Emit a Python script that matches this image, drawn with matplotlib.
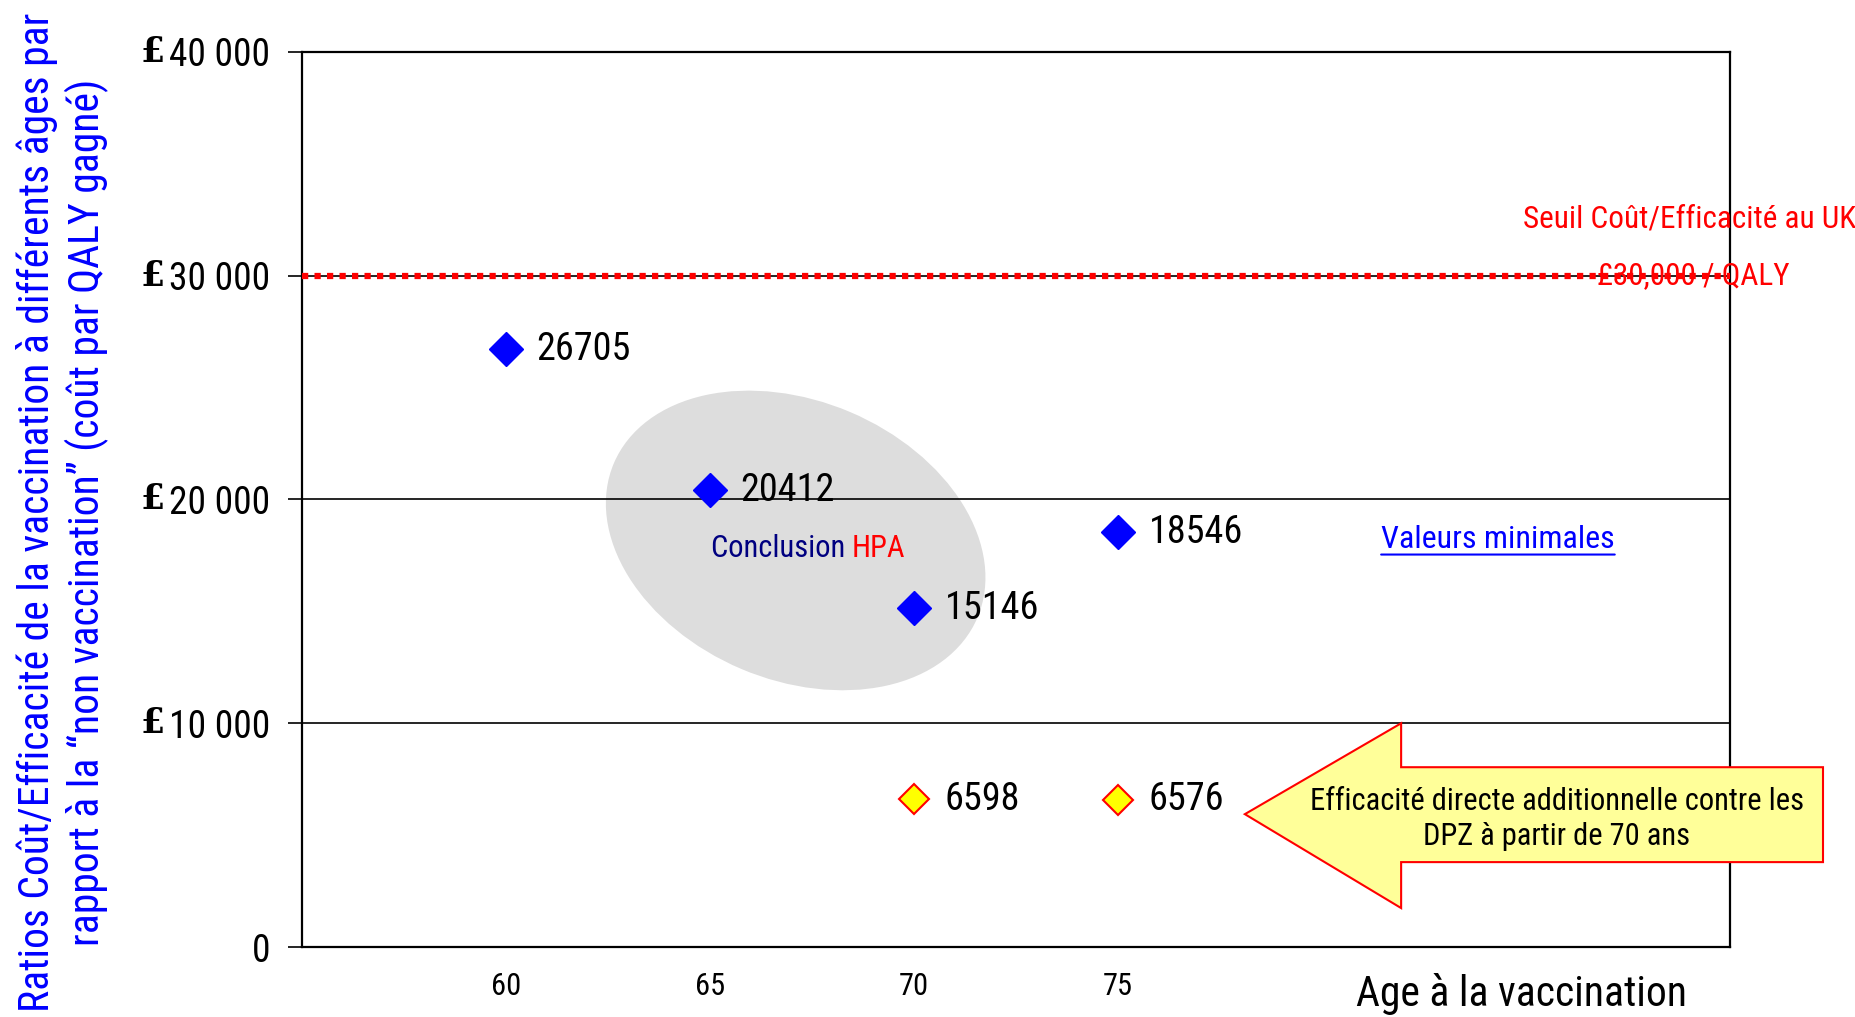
import matplotlib
matplotlib.use("Agg")
import matplotlib.pyplot as plt
from matplotlib import transforms, font_manager
from matplotlib.patches import Ellipse, Polygon

# data
ages = [60, 65, 70, 75]
ratios = [26705, 20412, 15146, 18546]
ages_direct = [70, 75]
ratios_direct = [6598, 6576]
threshold = 30000
y_ticks = [0, 10000, 20000, 30000, 40000]
y_tick_labels = ["0", "10 000", "20 000", "30 000", "40 000"]
x_ticks = [60, 65, 70, 75]

# narrow font if there is one, Arial-like otherwise
installed = {f.name for f in font_manager.fontManager.ttflist}
main_font = next(f for f in ["Liberation Sans Narrow", "Roboto Condensed", "Liberation Sans", "DejaVu Sans"]
                 if f in installed)
plt.rcParams["font.family"] = [main_font, "DejaVu Sans"]

fig = plt.figure(figsize=(18.56, 10.17), dpi=100)
ax = fig.add_axes([0.1627, 0.0688, 0.7694, 0.8801])
ax.set_xlim(55, 90)
ax.set_ylim(0, 40000)

# grey "Conclusion HPA" ellipse, sized in inches around a data point
ell_trans = fig.dpi_scale_trans + transforms.ScaledTranslation(67.1, 18170, ax.transData)
ax.add_patch(Ellipse((0, 0), 3.95, 2.79, angle=-23, transform=ell_trans,
                     facecolor="#dddddd", edgecolor="none", zorder=1))

ax.set_yticks(y_ticks)
ax.set_yticklabels(y_tick_labels, fontsize=27)
ax.tick_params(axis="y", direction="out", length=10, width=1.2, pad=13)
ax.set_xticks(x_ticks)
ax.set_xticklabels([str(a) for a in x_ticks], fontsize=22)
ax.tick_params(axis="x", length=0, pad=18)
ax.grid(axis="y", color="black", linewidth=1.2)
ax.grid(axis="x", visible=False)
for s in ax.spines.values():
    s.set_linewidth(1.6)
    s.set_color("black")

# pound signs in front of the y labels
for v in y_ticks[1:]:
    ax.text(-0.096, v, "£", transform=ax.get_yaxis_transform(), ha="right", va="center",
            fontsize=25, fontweight="bold", family="DejaVu Serif")

# threshold line
ax.axhline(threshold, color="red", linewidth=4.5, dashes=(1.0, 1.0),
           dash_capstyle="butt", zorder=3)
ax.text(84.93, 32545, "Seuil Coût/Efficacité au UK", color="red", fontsize=22.5,
        va="center", ha="left")
ax.text(86.74, threshold, "£30,000 / QALY", color="red", fontsize=22.5,
        va="center", ha="left", zorder=4)

# points
ax.plot(ages, ratios, linestyle="none", marker="D", markersize=17,
        color="blue", zorder=5)
ax.plot(ages_direct, ratios_direct, linestyle="none", marker="D", markersize=15,
        markerfacecolor="yellow", markeredgecolor="red", markeredgewidth=1.5, zorder=5)
for a, r in zip(ages + ages_direct, ratios + ratios_direct):
    ax.annotate(str(r), (a, r), xytext=(22, 0), textcoords="offset points",
                va="center", ha="left", fontsize=27.5, zorder=6)

t = ax.text(65.02, 17810, "Conclusion ", color="#000080", fontsize=22,
            va="center", ha="left", zorder=6)
ax.annotate("HPA", xy=(1, 0.5), xycoords=t, va="center", ha="left",
            color="red", fontsize=22, zorder=6)

v = ax.text(81.45, 18214, "Valeurs minimales", color="blue", fontsize=23,
            va="center", ha="left")
ax.annotate("", xy=(1, -0.02), xycoords=v, xytext=(0, -0.02), textcoords=v,
            arrowprops=dict(arrowstyle="-", color="blue", linewidth=1.5,
                            shrinkA=0, shrinkB=0))

# block arrow (sticks out past the right spine, as in the original)
arrow_pts = [(78.11, 5938), (81.94, 10000), (81.94, 8036), (92.28, 8036),
             (92.28, 3795), (81.94, 3795), (81.94, 1741)]
ax.add_patch(Polygon(arrow_pts, closed=True, facecolor="#ffff99", edgecolor="red",
                     linewidth=1.5, clip_on=False, zorder=7))
ax.text(85.76, 5714, "Efficacité directe additionnelle contre les\nDPZ à partir de 70 ans",
        ha="center", va="center", fontsize=22, linespacing=1.25, zorder=8)

ax.text(0.854, -0.053, "Age à la vaccination", transform=ax.transAxes, ha="center",
        va="center", fontsize=30)

fig.text(0.0335, 0.4966,
         "Ratios Coût/Efficacité de la vaccination à différents âges par\n"
         "rapport à la \u201cnon vaccination\u201d (coût par QALY gagné)",
         rotation=90, ha="center", va="center", multialignment="center",
         color="blue", fontsize=30, linespacing=1.2)

fig.savefig("out.png", dpi=100)
